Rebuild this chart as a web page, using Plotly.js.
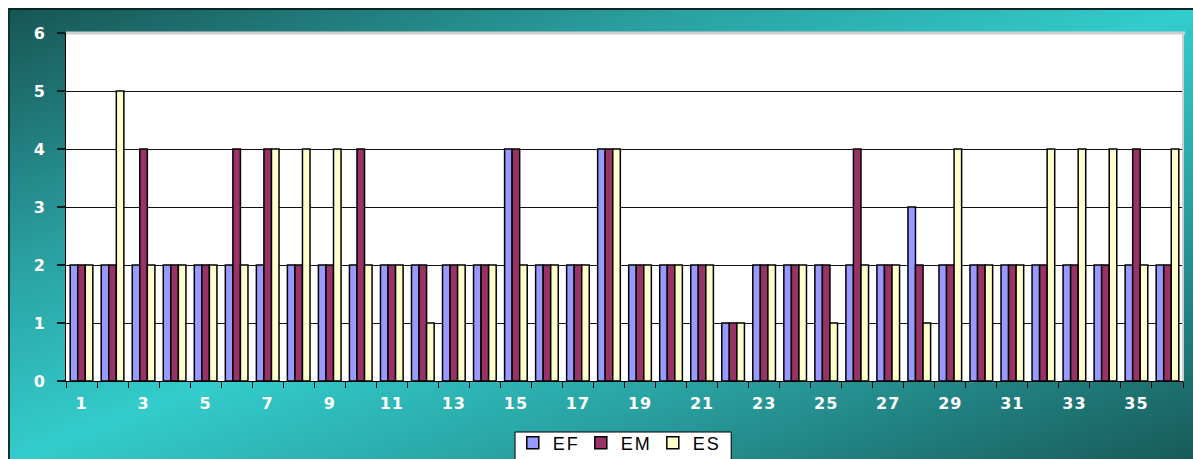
<!DOCTYPE html>
<html>
<head>
<meta charset="utf-8">
<script src="https://cdn.plot.ly/plotly-3.0.1.min.js"></script>
<style>
  html, body { margin: 0; padding: 0; background: #ffffff; }
  #wrap { position: relative; width: 1193px; height: 459px; overflow: hidden; }
  #frame {
    position: absolute; left: 8px; top: 8px; width: 1185px; height: 451px;
    box-sizing: border-box;
    border-top: 2px solid #082626; border-left: 2px solid #0d3333;
    background: linear-gradient(to bottom right, #185555 0%, #2a9f9f 28%, #33cccc 50%, #2aa3a3 70%, #185a5a 100%);
  }
  #chart { position: absolute; left: 0; top: 0; width: 1193px; height: 459px; }
  #chart .legendtext { letter-spacing: 2px; }
  #chart .xtick text { letter-spacing: 1px; }
</style>
</head>
<body>
<div id="wrap">
  <div id="frame"></div>
  <div id="chart"></div>
</div>
<script>
// Item numbers 1..36 and the three score series
const categories = Array.from({length: 36}, (_, i) => i + 1);
const seriesNames = ['EF', 'EM', 'ES'];
const EF = [2,2,2,2,2,2,2,2,2,2, 2,2,2,2,4,2,2,4,2,2, 2,1,2,2,2,2,2,3,2,2, 2,2,2,2,2,2];
const EM = [2,2,4,2,2,4,4,2,2,4, 2,2,2,2,4,2,2,4,2,2, 2,1,2,2,2,4,2,2,2,2, 2,2,2,2,4,2];
const ES = [2,5,2,2,2,2,4,4,4,2, 2,1,2,2,2,2,2,4,2,2, 2,1,2,2,1,2,2,1,4,2, 2,4,4,4,2,4];
const seriesColors = ['#9999ff', '#993366', '#ffffcc'];
const yTicks = [0, 1, 2, 3, 4, 5, 6];
const xTickLabels = categories.filter(c => c % 2 === 1);

const values = [EF, EM, ES];
const traces = seriesNames.map((name, i) => ({
  type: 'bar',
  name: name,
  x: categories,
  y: values[i],
  marker: { color: seriesColors[i], line: { color: '#000000', width: 1.5 } },
  hoverinfo: 'x+y+name'
}));

// tick marks sit on the boundaries between items
const boundaries = categories.map(c => c - 0.5).concat([categories[categories.length - 1] + 0.5]);

const labelFont = { family: 'DejaVu Sans, Verdana, sans-serif', size: 16, color: '#ffffff', weight: 'bold' };

const layout = {
  width: 1193,
  height: 459,
  margin: { l: 66, r: 10, t: 33, b: 78, pad: 0, autoexpand: false },
  paper_bgcolor: 'rgba(0,0,0,0)',
  plot_bgcolor: '#ffffff',
  barmode: 'group',
  bargap: 0.27,
  bargroupgap: 0,
  showlegend: true,
  legend: {
    orientation: 'h',
    x: 0.494, xanchor: 'center',
    yref: 'container',
    y: 0.035, yanchor: 'middle',
    bgcolor: 'rgba(0,0,0,0)',
    borderwidth: 0,
    font: { family: 'Liberation Sans, Arial, sans-serif', size: 18, color: '#000000' },
    itemclick: false
  },
  xaxis: {
    type: 'linear',
    range: [0.5, 36.5],
    tickmode: 'array',
    tickvals: xTickLabels,
    ticktext: xTickLabels.map(String),
    ticks: '',
    tickfont: labelFont,
    ticklabelstandoff: 8,
    showgrid: false,
    zeroline: false,
    showline: true,
    linecolor: '#000000',
    linewidth: 1,
    minor: {
      tickmode: 'array',
      tickvals: boundaries,
      ticks: 'outside',
      ticklen: 6,
      tickcolor: '#000000',
      tickwidth: 1,
      showgrid: false
    },
    fixedrange: true
  },
  yaxis: {
    range: [0, 6],
    tickmode: 'array',
    tickvals: yTicks,
    ticktext: yTicks.map(String),
    ticks: 'outside',
    ticklen: 8,
    tickcolor: '#0a2020',
    tickwidth: 2,
    tickfont: labelFont,
    ticklabelstandoff: 9,
    showgrid: true,
    gridcolor: '#111111',
    gridwidth: 1.2,
    zeroline: false,
    showline: true,
    linecolor: '#000000',
    linewidth: 1,
    fixedrange: true
  },
  shapes: [
    // light grey edge along the top and right of the plot area
    { type: 'line', xref: 'paper', yref: 'paper', x0: 0, x1: 1.002, y0: 1, y1: 1,
      line: { color: '#cfcfcf', width: 3 } },
    { type: 'line', xref: 'paper', yref: 'paper', x0: 1, x1: 1, y0: 0, y1: 1,
      line: { color: '#cfcfcf', width: 2 } },
    // white box behind the legend, running off the bottom edge
    { type: 'rect', xref: 'paper', yref: 'paper', x0: 0.402, x1: 0.5955, y0: -0.1466, y1: -0.26,
      fillcolor: '#ffffff', line: { color: '#000000', width: 1 }, layer: 'above' }
  ]
};

Plotly.newPlot('chart', traces, layout, { displayModeBar: false });
</script>
</body>
</html>
